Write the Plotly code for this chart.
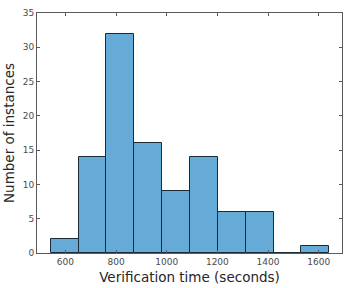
import plotly.graph_objects as go

bin_start = 542
bin_size = 110
counts = [2, 14, 32, 16, 9, 14, 6, 6, 0, 1]
x_ticks = [600, 800, 1000, 1200, 1400, 1600]
y_ticks = [0, 5, 10, 15, 20, 25, 30, 35]

centers = [bin_start + bin_size * (i + 0.5) for i in range(len(counts))]

fig = go.Figure()
fig.add_trace(go.Bar(
    x=centers, y=counts, width=[bin_size] * len(counts),
    marker=dict(color="rgb(102,170,215)", line=dict(color="#1c2a36", width=1)),
    showlegend=False,
))

axis_common = dict(
    showgrid=False, zeroline=False, showline=True, linecolor="#5a5a5a", linewidth=1,
    mirror="ticks", ticks="inside", ticklen=3, tickcolor="#5a5a5a",
    tickfont=dict(family="DejaVu Sans", size=9, color="#4a4a4a"),
    automargin=False,
)
fig.update_xaxes(range=[488, 1692], tickvals=x_ticks,
                 title=dict(text="Verification time (seconds)", font=dict(family="DejaVu Sans", size=13.5, color="#262626"), standoff=6),
                 **axis_common)
fig.update_yaxes(range=[0, 35], tickvals=y_ticks,
                 title=dict(text="Number of instances", font=dict(family="DejaVu Sans", size=13.5, color="#262626"), standoff=5),
                 **axis_common)
fig.update_layout(
    width=352, height=288,
    margin=dict(l=37, r=10, t=13, b=35),
    plot_bgcolor="white", paper_bgcolor="white",
    bargap=0,
)
fig.write_html("out.html")
